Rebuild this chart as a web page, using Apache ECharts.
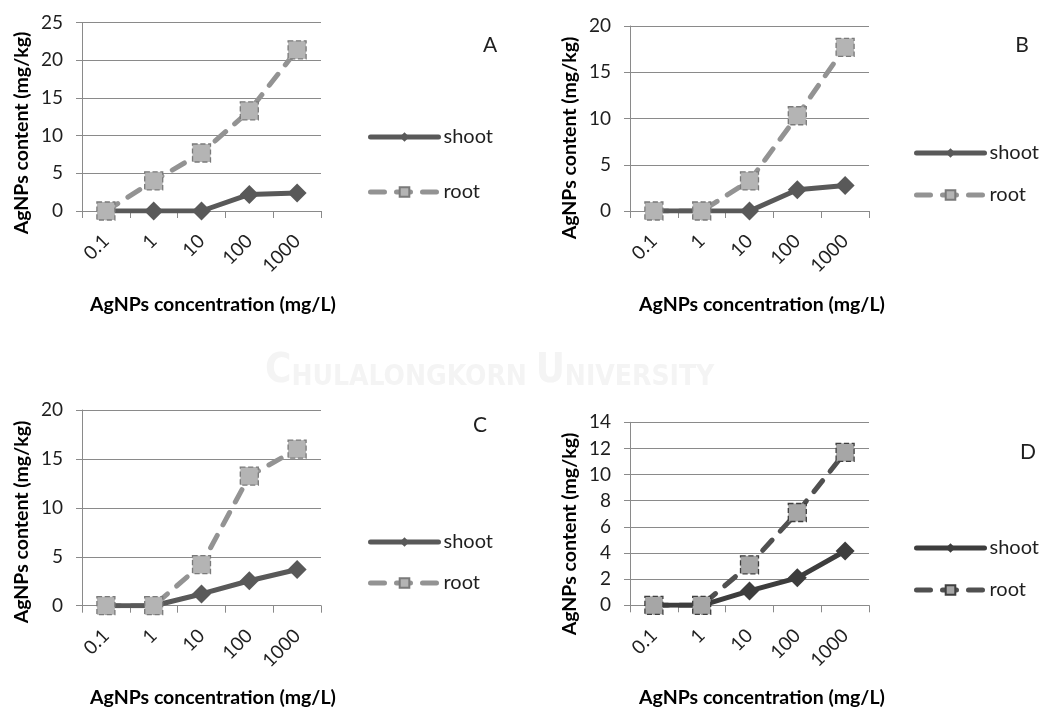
<!DOCTYPE html>
<html>
<head>
<meta charset="utf-8">
<title>AgNPs content in shoot and root</title>
<script src="https://cdn.jsdelivr.net/npm/echarts@6/dist/echarts.min.js"></script>
<style>
  html, body { margin: 0; padding: 0; background: #ffffff; }
  #chart { width: 1041px; height: 711px; }
</style>
</head>
<body>
<div id="chart"></div>
<script>
// AgNPs concentration in the growth medium (mg/L)
const categories = ['0.1', '1', '10', '100', '1000'];

// AgNPs content (mg/kg) in shoot and root, one pair per panel
const shootA = [0, 0, 0, 2.2, 2.4];
const rootA  = [0, 4.0, 7.7, 13.3, 21.4];
const shootB = [0, 0, 0, 2.3, 2.75];
const rootB  = [0, 0, 3.25, 10.3, 17.7];
const shootC = [0, 0, 1.2, 2.55, 3.7];
const rootC  = [0, 0, 4.2, 13.25, 16.0];
const shootD = [0, 0, 1.1, 2.1, 4.15];
const rootD  = [0, 0, 3.1, 7.1, 11.7];

// value-axis ranges per panel
const yMax  = [25, 20, 20, 14];
const yStep = [5, 5, 5, 2];

const panelLetters = ['A', 'B', 'C', 'D'];
const shootSets = [shootA, shootB, shootC, shootD];
const rootSets  = [rootA, rootB, rootC, rootD];

const yTitle = 'AgNPs content (mg/kg)';
const xTitle = 'AgNPs concentration (mg/L)';

const FONT = 'Lato, "Open Sans", sans-serif';
const AXIS_GRAY = '#8a8a8a';
const TEXT = '#1f1f1f';

// layout of each panel (pixels)
const panels = [
  { grid: [82, 22.7, 239, 188.3],  legend: [368, 127, 35], letter: [490, 45],   yT: [22, 133],  xT: [213, 305] },
  { grid: [630, 26, 239, 185],     legend: [914, 143, 22], letter: [1022, 45],  yT: [570, 138], xT: [762, 305] },
  { grid: [82, 410, 239, 195.7],   legend: [368, 532, 21], letter: [480, 425],  yT: [22, 522],  xT: [213, 698] },
  { grid: [630, 422.3, 239, 183],  legend: [914, 538, 22], letter: [1028, 452], yT: [570, 534], xT: [762, 698] }
];

// colour schemes: panels A-C share one, D is darker
const stylesABC = { shoot: '#595959', rootLine: '#939393', rootFill: '#b4b4b4', rootBorder: '#7a7a7a' };
const stylesD   = { shoot: '#3d3d3d', rootLine: '#505050', rootFill: '#a6a6a6', rootBorder: '#3f3f3f' };

const grids = [], xAxes = [], yAxes = [], series = [], legends = [], graphics = [];

panels.forEach((p, i) => {
  const L = panelLetters[i];
  const st = i === 3 ? stylesD : stylesABC;

  grids.push({ left: p.grid[0], top: p.grid[1], width: p.grid[2], height: p.grid[3], containLabel: false });

  xAxes.push({
    type: 'category', gridIndex: i, data: categories, boundaryGap: true,
    axisLine: { show: true, lineStyle: { color: AXIS_GRAY, width: 1 } },
    axisTick: { show: true, alignWithLabel: false, length: 7, lineStyle: { color: AXIS_GRAY } },
    axisLabel: { rotate: 45, margin: 27, fontFamily: FONT, fontSize: 19, color: TEXT },
    splitLine: { show: false }
  });

  yAxes.push({
    type: 'value', gridIndex: i, min: 0, max: yMax[i], interval: yStep[i],
    axisLine: { show: true, lineStyle: { color: AXIS_GRAY, width: 1 } },
    axisTick: { show: true, length: 6, lineStyle: { color: AXIS_GRAY } },
    axisLabel: { margin: 19, fontFamily: FONT, fontSize: 19, color: TEXT },
    splitLine: { show: true, lineStyle: { color: AXIS_GRAY, width: 1 } }
  });

  const rootItem = { color: st.rootFill, borderColor: st.rootBorder, borderWidth: 1.3, borderType: 'dashed' };

  // root: dashed line (its markers are drawn on top of the shoot series)
  series.push({
    name: 'root ' + L, type: 'line', xAxisIndex: i, yAxisIndex: i, data: rootSets[i],
    symbol: 'rect', symbolSize: 18, showSymbol: false,
    lineStyle: { color: st.rootLine, width: 5, type: [14, 12], cap: 'round' },
    itemStyle: rootItem, z: 2, animation: false, silent: true
  });
  // shoot: solid line with diamonds
  series.push({
    name: 'shoot ' + L, type: 'line', xAxisIndex: i, yAxisIndex: i, data: shootSets[i],
    symbol: 'diamond', symbolSize: 19, showSymbol: true,
    lineStyle: { color: st.shoot, width: 5 },
    itemStyle: { color: st.shoot }, z: 3, animation: false, silent: true
  });
  // root markers
  series.push({
    name: 'root points ' + L, type: 'line', xAxisIndex: i, yAxisIndex: i, data: rootSets[i],
    symbol: 'rect', symbolSize: 18, showSymbol: true,
    lineStyle: { width: 0, opacity: 0 },
    itemStyle: rootItem, z: 4, animation: false, silent: true
  });

  legends.push({
    data: ['shoot ' + L, 'root ' + L],
    formatter: name => name.split(' ')[0],
    orient: 'vertical', left: p.legend[0], top: p.legend[1], itemGap: p.legend[2],
    itemWidth: 68, itemHeight: 12, selectedMode: false, padding: 0,
    lineStyle: { width: 5, cap: 'round' },
    textStyle: { fontFamily: FONT, fontSize: 20, color: TEXT, lineHeight: 20 }
  });

  // panel letter
  graphics.push({
    type: 'text', x: p.letter[0], y: p.letter[1], silent: true,
    style: { text: L, fontFamily: FONT, fontSize: 21, fill: TEXT, align: 'center', verticalAlign: 'middle' }
  });
  // axis titles
  graphics.push({
    type: 'text', x: p.yT[0], y: p.yT[1], rotation: Math.PI / 2, silent: true,
    style: { text: yTitle, fontFamily: FONT, fontSize: 19.5, fontWeight: 'bold', fill: '#000', align: 'center', verticalAlign: 'middle' }
  });
  graphics.push({
    type: 'text', x: p.xT[0], y: p.xT[1], silent: true,
    style: { text: xTitle, fontFamily: FONT, fontSize: 19.5, fontWeight: 'bold', fill: '#000', align: 'center', verticalAlign: 'middle' }
  });
});

// faint institutional watermark behind the charts
graphics.unshift({
  type: 'text', x: 265, y: 392, z: -10, silent: true,
  style: {
    text: '{b|C}{s|HULALONGKORN }{b|U}{s|NIVERSITY}',
    fill: '#f4f4f4', fontFamily: '"DejaVu Sans Condensed", "DejaVu Sans", sans-serif', fontWeight: 'bold',
    verticalAlign: 'bottom',
    rich: {
      b: { fontSize: 40, fontWeight: 'bold', fill: '#f4f4f4', verticalAlign: 'bottom', fontFamily: '"DejaVu Sans Condensed", sans-serif' },
      s: { fontSize: 28, fontWeight: 'bold', fill: '#f4f4f4', verticalAlign: 'bottom', fontFamily: '"DejaVu Sans Condensed", sans-serif' }
    }
  }
});

const chart = echarts.init(document.getElementById('chart'), null, { renderer: 'canvas' });
chart.setOption({
  backgroundColor: '#ffffff',
  animation: false,
  grid: grids,
  xAxis: xAxes,
  yAxis: yAxes,
  legend: legends,
  series: series,
  graphic: graphics
});
</script>
</body>
</html>
